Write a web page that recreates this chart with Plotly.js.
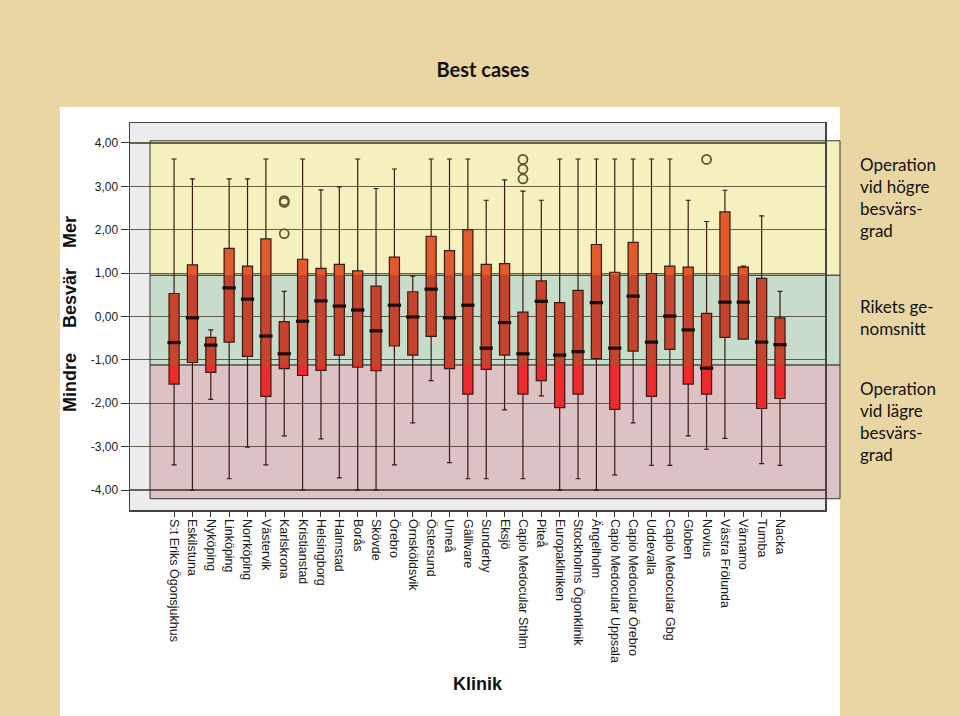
<!DOCTYPE html>
<html>
<head>
<meta charset="utf-8">
<script src="https://cdn.plot.ly/plotly-3.0.1.min.js"></script>
<style>html,body{margin:0;padding:0;background:#e9d6a3;}</style>
</head>
<body>
<div id="chart" style="width:960px;height:716px;"></div>
<script>
const clinics = ['S:t Eriks Ögonsjukhus','Eskilstuna','Nyköping','Linköping','Norrköping','Västervik','Karlskrona','Kristianstad','Helsingborg','Halmstad','Borås','Skövde','Örebro','Örnsköldsvik','Östersund','Umeå','Gällivare','Sunderby','Eksjö','Capio Medocular Sthlm','Piteå','Europakliniken','Stockholms Ögonklinik','Ängelholm','Capio Medocular Uppsala','Capio Medocular Örebro','Uddevalla','Capio Medocular Gbg','Globen','Novius','Västra Frölunda','Värnamo','Tumba','Nacka'];
const upperWhisker = [3.63,3.17,-0.31,3.17,3.17,3.63,0.58,3.63,2.92,2.99,3.63,2.95,3.40,0.93,3.63,3.63,3.63,2.68,3.15,2.89,2.68,3.63,3.63,3.63,3.63,3.63,3.63,3.63,2.68,2.19,2.91,1.16,2.32,0.58];
const q3 = [0.53,1.19,-0.48,1.57,1.16,1.79,-0.12,1.32,1.11,1.20,1.05,0.70,1.37,0.57,1.85,1.52,2.00,1.20,1.22,0.10,0.82,0.32,0.60,1.66,1.02,1.71,0.99,1.16,1.14,0.07,2.41,1.14,0.88,-0.03];
const median = [-0.60,-0.03,-0.66,0.66,0.40,-0.45,-0.86,-0.11,0.36,0.24,0.15,-0.33,0.26,-0.01,0.63,-0.03,0.26,-0.73,-0.14,-0.86,0.35,-0.89,-0.81,0.32,-0.73,0.47,-0.59,0.01,-0.31,-1.19,0.33,0.33,-0.59,-0.65];
const q1 = [-1.56,-1.06,-1.29,-0.59,-0.92,-1.84,-1.20,-1.36,-1.24,-0.89,-1.17,-1.25,-0.68,-0.89,-0.46,-1.20,-1.79,-1.22,-0.89,-1.79,-1.48,-2.10,-1.79,-0.97,-2.14,-0.80,-1.84,-0.76,-1.56,-1.79,-0.48,-0.52,-2.12,-1.89];
const lowerWhisker = [-3.42,-4.0,-1.91,-3.74,-3.01,-3.42,-2.75,-4.0,-2.82,-3.72,-4.0,-4.0,-3.42,-2.45,-1.48,-3.37,-3.74,-3.74,-2.15,-3.74,-1.83,-4.0,-3.74,-4.0,-3.65,-2.45,-3.43,-3.43,-2.75,-3.06,-2.81,-0.52,-3.39,-3.43];
const outlierClinic = ['Karlskrona','Karlskrona','Karlskrona','Capio Medocular Sthlm','Capio Medocular Sthlm','Capio Medocular Sthlm','Novius'];
const outlierValue = [2.67,2.63,1.91,3.62,3.40,3.17,3.62];
const yTickVals = [-4,-3,-2,-1,0,1,2,3,4];
const yTickText = ['-4,00','-3,00','-2,00','-1,00','0,00','1,00','2,00','3,00','4,00'];
// band limits (Rikets genomsnitt)
const bandHigh = 0.95, bandLow = -1.12, bandTop = 4.05, bandBottom = -4.2;

const idx = clinics.map((c,i)=>i);
const Y0 = -4.46, Y1 = 4.46;
const yp = v => (v - Y0)/(Y1 - Y0);
const BW = 0.55;

// split box fills at band limits
const redBase=[], redH=[], grnBase=[], grnH=[], orBase=[], orH=[];
for (let i=0;i<clinics.length;i++){
  const a=q1[i], b=q3[i];
  if (a < bandLow){ redBase.push(a); redH.push(Math.min(b,bandLow)-a);} else {redBase.push(null); redH.push(null);}
  const lo=Math.max(a,bandLow), hi=Math.min(b,bandHigh);
  if (hi>lo){ grnBase.push(lo); grnH.push(hi-lo);} else {grnBase.push(null); grnH.push(null);}
  if (b > bandHigh){ const s=Math.max(a,bandHigh); orBase.push(s); orH.push(b-s);} else {orBase.push(null); orH.push(null);}
}

const traces = [
  {type:'bar', x:idx, y:redH, base:redBase, width:BW, marker:{color:'#ee2a2f', line:{width:0}}, hoverinfo:'skip', showlegend:false},
  {type:'bar', x:idx, y:grnH, base:grnBase, width:BW, marker:{color:'#c6432d', line:{width:0}}, hoverinfo:'skip', showlegend:false},
  {type:'bar', x:idx, y:orH, base:orBase, width:BW, marker:{color:'#e05a2c', line:{width:0}}, hoverinfo:'skip', showlegend:false},
  {type:'box', x:idx, q1:q1, median:median, q3:q3, lowerfence:lowerWhisker, upperfence:upperWhisker,
   width:BW, whiskerwidth:0.5, fillcolor:'rgba(0,0,0,0)', line:{color:'#3a1a10', width:1.2},
   boxpoints:false, hoverinfo:'skip', showlegend:false},
  {type:'scatter', mode:'markers', x:idx, y:median, hoverinfo:'skip', showlegend:false,
   marker:{symbol:'line-ew', size:9.5, line:{width:3.2, color:'#1a0a06'}}},
  {type:'scatter', mode:'markers', x:outlierClinic.map(c=>clinics.indexOf(c)), y:outlierValue, hoverinfo:'skip', showlegend:false,
   marker:{symbol:'circle-open', size:9, color:'#5b5530', line:{width:1.8, color:'#5b5530'}}}
];

const px = x => (x - 130)/695;
const pyPix = y => (510 - y)/387;

const layout = {
  width:960, height:716, autosize:false,
  margin:{l:130, r:135, t:123, b:206},
  paper_bgcolor:'#e9d6a3', plot_bgcolor:'rgba(0,0,0,0)',
  barmode:'overlay', bargap:0,
  title:{text:'<b>Best cases</b>', font:{family:'Lato', size:20, color:'#111'}, x:0.503, xref:'container', xanchor:'center', y:1-70/716, yref:'container', yanchor:'middle'},
  xaxis:{range:[-2.4, 35.45], tickmode:'array', tickvals:idx, ticktext:clinics, tickangle:90,
    ticks:'outside', ticklen:5, tickcolor:'#333', tickwidth:1,
    tickfont:{family:'Liberation Sans', size:12.5, color:'#1a1a1a'},
    showgrid:false, zeroline:false, showline:true, mirror:true, linecolor:'#444', linewidth:1.5, fixedrange:true},
  yaxis:{range:[Y0, Y1], tickmode:'array', tickvals:yTickVals, ticktext:yTickText,
    ticks:'outside', ticklen:8, tickcolor:'#333', tickwidth:1,
    tickfont:{family:'Liberation Sans', size:12, color:'#1a1a1a'},
    showgrid:true, gridcolor:'rgba(70,60,40,0.8)', gridwidth:1.2, zeroline:false,
    showline:true, mirror:true, linecolor:'#444', linewidth:1.5, fixedrange:true},
  shapes:[
    {type:'rect', xref:'paper', yref:'paper', x0:px(60), x1:px(840), y0:pyPix(716), y1:pyPix(107), fillcolor:'#ffffff', line:{width:0}, layer:'below'},
    {type:'rect', xref:'paper', yref:'paper', x0:0, x1:1, y0:0, y1:1, fillcolor:'#ececec', line:{width:0}, layer:'below'},
    {type:'rect', xref:'paper', yref:'paper', x0:px(150), x1:px(840), y0:yp(bandHigh), y1:yp(bandTop), fillcolor:'#f5f1bf', line:{width:1, color:'#333'}, layer:'below'},
    {type:'rect', xref:'paper', yref:'paper', x0:px(150), x1:px(840), y0:yp(bandLow), y1:yp(bandHigh), fillcolor:'#c7dccb', line:{width:1, color:'#333'}, layer:'below'},
    {type:'rect', xref:'paper', yref:'paper', x0:px(150), x1:px(840), y0:yp(bandBottom), y1:yp(bandLow), fillcolor:'#dcc2c4', line:{width:1, color:'#333'}, layer:'below'}
  ],
  annotations:[
    {xref:'paper', yref:'paper', x:px(70), y:pyPix(314), text:'<b>Mindre\u00a0\u00a0\u00a0\u00a0\u00a0Besvär\u00a0\u00a0\u00a0\u00a0Mer</b>', textangle:-90, showarrow:false, xanchor:'center', yanchor:'middle', font:{family:'Liberation Sans', size:18, color:'#111'}},
    {xref:'paper', yref:'paper', x:0.5, y:pyPix(684), text:'<b>Klinik</b>', showarrow:false, xanchor:'center', yanchor:'middle', font:{family:'Liberation Sans', size:18, color:'#111'}},
    {xref:'paper', yref:'paper', x:px(858), y:pyPix(197.5), text:'Operation<br>vid högre<br>besvärs-<br>grad', align:'left', showarrow:false, xanchor:'left', yanchor:'middle', font:{family:'Lato', size:17, color:'#111'}},
    {xref:'paper', yref:'paper', x:px(858), y:pyPix(317.5), text:'Rikets ge-<br>nomsnitt', align:'left', showarrow:false, xanchor:'left', yanchor:'middle', font:{family:'Lato', size:17, color:'#111'}},
    {xref:'paper', yref:'paper', x:px(858), y:pyPix(421.5), text:'Operation<br>vid lägre<br>besvärs-<br>grad', align:'left', showarrow:false, xanchor:'left', yanchor:'middle', font:{family:'Lato', size:17, color:'#111'}}
  ]
};

Plotly.newPlot('chart', traces, layout, {staticPlot:true, displayModeBar:false});
</script>
</body>
</html>
